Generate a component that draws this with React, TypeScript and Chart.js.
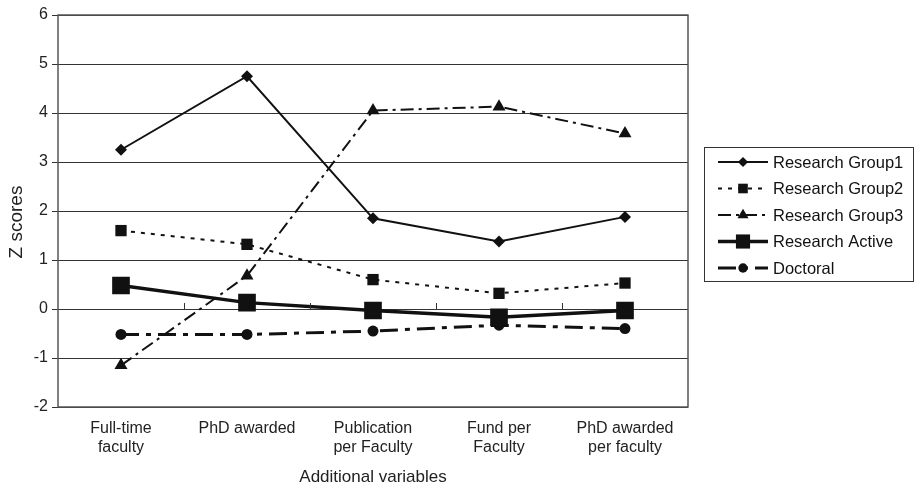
import React, { useEffect, useRef } from 'react';
import { Chart, registerables } from 'chart.js';

Chart.register(...registerables);

const categories: (string | string[])[] = [
  ['Full-time', 'faculty'],
  'PhD awarded',
  ['Publication', 'per Faculty'],
  ['Fund per', 'Faculty'],
  ['PhD awarded', 'per faculty'],
];
const seriesNames = ['Research Group1', 'Research Group2', 'Research Group3', 'Research Active', 'Doctoral'];
const researchGroup1 = [3.25, 4.75, 1.85, 1.38, 1.88];
const researchGroup2 = [1.6, 1.32, 0.6, 0.32, 0.53];
const researchGroup3 = [-1.15, 0.68, 4.05, 4.13, 3.58];
const researchActive = [0.48, 0.13, -0.03, -0.17, -0.03];
const doctoral = [-0.52, -0.52, -0.45, -0.33, -0.4];
const yTicks = [-2, -1, 0, 1, 2, 3, 4, 5, 6];
const yTitle = 'Z scores';
const xTitle = 'Additional variables';

const FONT = "'Liberation Sans', Arial, sans-serif";
const INK = '#111';

type Style = { dash: number[]; width: number; point: string; radius: number };
const styles: Style[] = [
  { dash: [], width: 2, point: 'rectRot', radius: 6 },
  { dash: [4, 6], width: 2, point: 'rect', radius: 8 },
  { dash: [13, 5, 3, 5], width: 2, point: 'triangle', radius: 7.5 },
  { dash: [], width: 3.5, point: 'rect', radius: 12.5 },
  { dash: [18, 7, 5, 7], width: 3, point: 'circle', radius: 5.5 },
];

function drawMarker(ctx: CanvasRenderingContext2D, kind: string, x: number, y: number, r: number) {
  ctx.beginPath();
  if (kind === 'rectRot') {
    ctx.moveTo(x, y - r); ctx.lineTo(x + r, y); ctx.lineTo(x, y + r); ctx.lineTo(x - r, y); ctx.closePath();
  } else if (kind === 'rect') {
    const s = r * Math.SQRT1_2; ctx.rect(x - s, y - s, 2 * s, 2 * s);
  } else if (kind === 'triangle') {
    ctx.moveTo(x, y - r); ctx.lineTo(x + r * 0.87, y + r * 0.5); ctx.lineTo(x - r * 0.87, y + r * 0.5); ctx.closePath();
  } else {
    ctx.arc(x, y, r, 0, Math.PI * 2);
  }
  ctx.fill();
}

const framePlugin = {
  id: 'frameAndLegend',
  afterDatasetsDraw(chart: any) {
    const { ctx, chartArea: a, scales } = chart;
    ctx.save();
    // frame
    ctx.strokeStyle = '#555';
    ctx.lineWidth = 1.5;
    ctx.setLineDash([]);
    ctx.strokeRect(a.left, a.top, a.right - a.left, a.bottom - a.top);
    // category ticks on the zero line
    const y0 = scales.y.getPixelForValue(0);
    ctx.strokeStyle = '#333';
    ctx.lineWidth = 1;
    for (let i = 0; i < categories.length - 1; i++) {
      const xm = (scales.x.getPixelForValue(i) + scales.x.getPixelForValue(i + 1)) / 2;
      ctx.beginPath(); ctx.moveTo(xm + 0.5, y0 - 6); ctx.lineTo(xm + 0.5, y0); ctx.stroke();
    }
    // y-axis title
    ctx.save();
    ctx.translate(17, (a.top + a.bottom) / 2 + 11);
    ctx.rotate(-Math.PI / 2);
    ctx.font = `19px ${FONT}`;
    ctx.fillStyle = '#222';
    ctx.textAlign = 'center';
    ctx.textBaseline = 'middle';
    ctx.fillText(yTitle, 0, 0);
    ctx.restore();
    // legend
    const lx = a.right + 16, ly = 147, lw = 914 - lx - 1, lh = 134;
    ctx.strokeStyle = '#333';
    ctx.lineWidth = 1;
    ctx.strokeRect(lx + 0.5, ly + 0.5, lw, lh);
    ctx.font = `16.5px ${FONT}`;
    ctx.textBaseline = 'middle';
    ctx.textAlign = 'left';
    seriesNames.forEach((name, i) => {
      const st = styles[i];
      const yy = ly + 15 + i * 26.5;
      const x1 = lx + 14, x2 = lx + 64;
      ctx.strokeStyle = INK; ctx.fillStyle = INK;
      ctx.lineWidth = st.width;
      ctx.setLineDash(st.dash);
      ctx.beginPath(); ctx.moveTo(x1, yy); ctx.lineTo(x2, yy); ctx.stroke();
      ctx.setLineDash([]);
      drawMarker(ctx, st.point, (x1 + x2) / 2, yy, i === 3 ? 10 : st.radius * 0.85);
      ctx.fillStyle = '#111';
      ctx.fillText(name, x2 + 5, yy + 1);
    });
    ctx.restore();
  },
};

export default function App() {
  const ref = useRef<HTMLCanvasElement | null>(null);
  useEffect(() => {
    document.body.style.margin = '0';
    const seriesData = [researchGroup1, researchGroup2, researchGroup3, researchActive, doctoral];
    const chart = new Chart(ref.current!, {
      type: 'line',
      data: {
        labels: categories,
        datasets: seriesNames.map((name, i) => ({
          label: name,
          data: seriesData[i],
          borderColor: INK,
          backgroundColor: INK,
          borderWidth: styles[i].width,
          borderDash: styles[i].dash,
          pointStyle: styles[i].point as any,
          pointRadius: styles[i].radius,
          pointBackgroundColor: INK,
          pointBorderWidth: 0,
          tension: 0,
          fill: false,
        })),
      },
      options: {
        animation: false,
        responsive: false,
        maintainAspectRatio: false,
        layout: { padding: { top: 15, right: 226, left: 0, bottom: 0 } },
        plugins: { legend: { display: false }, tooltip: { enabled: false } },
        scales: {
          x: {
            offset: true,
            grid: { display: false, drawTicks: false },
            border: { display: false },
            ticks: { color: '#222', font: { family: FONT, size: 16 }, padding: 12, maxRotation: 0, autoSkip: false },
            title: { display: true, text: xTitle, color: '#222', font: { family: FONT, size: 17 }, padding: { top: 3 } },
            afterFit: (s: any) => { s.height = 85; },
          },
          y: {
            min: -2,
            max: 6,
            afterBuildTicks: (s: any) => { s.ticks = yTicks.map((v) => ({ value: v })); },
            grid: { color: '#333', lineWidth: 1, tickLength: 6 },
            border: { display: false },
            ticks: { color: '#222', font: { family: FONT, size: 16 }, padding: 4 },
            title: { display: false },
            afterFit: (s: any) => { s.width = 58; },
          },
        },
      },
      plugins: [framePlugin],
    });
    return () => chart.destroy();
  }, []);
  return (
    <div style={{ width: 914, height: 492 }}>
      <canvas ref={ref} width={914} height={492} style={{ display: 'block' }} />
    </div>
  );
}
